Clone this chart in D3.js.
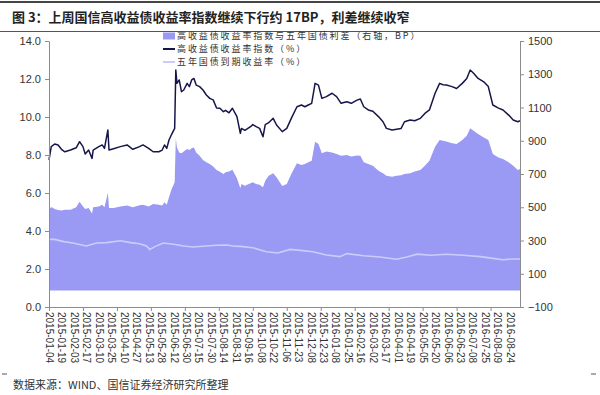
<!DOCTYPE html>
<html>
<head>
<meta charset="utf-8">
<script src="https://cdn.jsdelivr.net/npm/d3@7"></script>
<style>
  body { margin: 0; background: #fff; }
  svg { display: block; }
  .axis path, .axis line { stroke: #8c8c8c; }
  .axis text { fill: #333; font-family: Arial, "Liberation Sans", sans-serif; }
</style>
</head>
<body>
<div id="chart"></div>
<script>
// trading-day index (x) and readings
const idxDays = [0, 2, 5, 8, 11, 14, 19, 24, 27, 30, 32, 35, 38, 39, 44, 47, 49, 52, 53, 57, 63, 69, 74, 80, 83, 88, 92, 97, 100, 102, 104, 106, 108, 111, 112, 113, 115, 117, 119, 122, 124, 126, 128, 130, 133, 136, 139, 142, 145, 148, 151, 154, 156, 159, 162, 166, 169, 170, 173, 178, 180, 183, 186, 189, 191, 194, 198, 201, 206, 210, 214, 219, 223, 226, 229, 232, 235, 238, 241, 245, 250, 254, 258, 263, 267, 272, 275, 278, 282, 286, 291, 295, 298, 303, 307, 311, 314, 319, 323, 328, 332, 336, 341, 345, 348, 351, 356, 360, 365, 369, 372, 375, 379, 384, 388, 392, 397, 401, 406, 410, 414, 416];
const hyIndex = [7.74, 8.44, 8.58, 8.53, 8.30, 8.17, 8.26, 8.38, 8.70, 8.44, 8.05, 8.26, 7.82, 8.26, 8.44, 8.53, 8.35, 9.32, 8.26, 8.33, 8.44, 8.53, 8.30, 8.44, 8.53, 8.35, 8.17, 8.17, 8.26, 8.53, 8.35, 8.79, 9.05, 9.40, 12.47, 11.77, 11.95, 11.33, 11.42, 11.77, 11.60, 11.95, 12.03, 11.68, 11.60, 11.42, 11.16, 10.98, 10.90, 10.47, 10.46, 10.28, 10.35, 10.22, 10.46, 10.02, 9.14, 9.40, 9.30, 9.49, 9.60, 9.49, 9.40, 8.96, 9.60, 9.70, 9.93, 9.58, 9.23, 9.40, 9.93, 10.54, 10.63, 10.54, 10.63, 10.72, 11.77, 11.68, 10.98, 11.07, 11.25, 11.07, 10.72, 10.80, 10.72, 10.89, 10.95, 10.54, 10.37, 10.30, 10.02, 9.75, 9.40, 9.32, 9.36, 9.40, 9.75, 9.84, 9.80, 9.93, 10.19, 10.37, 11.25, 11.77, 11.70, 11.68, 11.60, 11.50, 11.77, 12.03, 12.47, 12.30, 12.03, 11.85, 11.60, 10.63, 10.47, 10.37, 10.10, 9.84, 9.75, 9.80];
const spreadBp = [483, 501, 490, 483, 480, 485, 485, 500, 533, 505, 490, 495, 463, 500, 505, 515, 500, 587, 495, 495, 505, 510, 500, 512, 515, 505, 520, 515, 510, 530, 515, 560, 604, 650, 915, 860, 830, 825, 835, 850, 845, 855, 860, 830, 810, 784, 770, 760, 745, 724, 714, 700, 710, 715, 726, 674, 614, 640, 630, 644, 650, 640, 636, 620, 660, 690, 704, 680, 628, 640, 700, 764, 754, 760, 770, 780, 894, 880, 825, 835, 830, 820, 810, 815, 805, 812, 810, 770, 760, 750, 720, 704, 690, 684, 690, 692, 700, 705, 715, 724, 750, 780, 864, 904, 900, 895, 885, 880, 905, 930, 975, 960, 940, 920, 904, 820, 800, 790, 770, 750, 724, 730];

const tsyDays = [0, 5, 13, 21, 33, 42, 51, 63, 72, 80, 86, 89, 94, 101, 110, 119, 127, 139, 148, 157, 164, 169, 180, 192, 202, 213, 222, 233, 245, 257, 263, 278, 292, 307, 316, 325, 337, 351, 366, 381, 392, 401, 410, 416];
const tsy5y = [3.56, 3.56, 3.44, 3.37, 3.21, 3.37, 3.39, 3.49, 3.39, 3.33, 3.21, 3.03, 3.19, 3.37, 3.30, 3.21, 3.16, 3.21, 3.25, 3.26, 3.20, 3.19, 3.12, 2.91, 2.84, 3.03, 2.98, 2.91, 2.74, 2.65, 2.81, 2.70, 2.63, 2.51, 2.63, 2.78, 2.72, 2.78, 2.72, 2.65, 2.56, 2.49, 2.53, 2.53];

const dateLabels = ["2015-01-04", "2015-01-19", "2015-02-03", "2015-02-17", "2015-03-10", "2015-03-25", "2015-04-10", "2015-04-27", "2015-05-13", "2015-05-28", "2015-06-12", "2015-06-30", "2015-07-15", "2015-07-30", "2015-08-14", "2015-08-31", "2015-09-16", "2015-10-08", "2015-10-22", "2015-11-06", "2015-11-23", "2015-12-08", "2015-12-23", "2016-01-08", "2016-01-25", "2016-02-16", "2016-03-02", "2016-03-17", "2016-04-01", "2016-04-19", "2016-05-05", "2016-05-20", "2016-06-06", "2016-06-23", "2016-07-08", "2016-07-25", "2016-08-09", "2016-08-24"];
const leftTicks = [0, 2, 4, 6, 8, 10, 12, 14];
const rightTicks = [-100, 100, 300, 500, 700, 900, 1100, 1300, 1500];

const legendNames = ["高收益债收益率指数与五年国债利差（右轴，BP）", "高收益债收益率指数（%）", "五年国债到期收益率（%）"];
const title = "图 3：上周国信高收益债收益率指数继续下行约 17BP，利差继续收窄";
const source = "数据来源：WIND、国信证券经济研究所整理";

const width = 600, height = 395;
const plotLeft = 49, plotRight = 520, plotTop = 41, plotBottom = 307;
const areaColor = "#9a9af5", indexColor = "#16164a", tsyColor = "#ccccfa";

const svg = d3.select("#chart").append("svg")
    .attr("width", width)
    .attr("height", height);

// header rules and title
svg.append("line").attr("x1", 0).attr("x2", width).attr("y1", 2).attr("y2", 2)
    .attr("stroke", "#444").attr("stroke-width", 2);
svg.append("line").attr("x1", 0).attr("x2", width).attr("y1", 31.5).attr("y2", 31.5)
    .attr("stroke", "#555").attr("stroke-width", 1);
svg.append("text")
    .attr("x", 12).attr("y", 22)
    .style("font-family", "'Noto Sans CJK SC', sans-serif")
    .style("font-size", "13px").style("font-weight", "bold").style("fill", "#222")
    .text(title);

let x = d3.scaleLinear().domain([0, 416]).range([plotLeft, plotRight]);
let yL = d3.scaleLinear().domain([0, 14]).range([plotBottom, plotTop]);
let yR = d3.scaleLinear().domain([-100, 1500]).range([plotBottom, plotTop]);

// spread area (right axis)
let area = d3.area()
    .x(function (d, i) { return x(idxDays[i]); })
    .y0(yR(0))
    .y1(function (d) { return yR(d); });

svg.append("path")
    .datum(spreadBp)
    .attr("d", area)
    .attr("fill", areaColor);

// five-year treasury line
let tsyLine = d3.line()
    .x(function (d, i) { return x(tsyDays[i]); })
    .y(function (d) { return yL(d); });

svg.append("path")
    .datum(tsy5y)
    .attr("d", tsyLine)
    .attr("fill", "none")
    .attr("stroke", tsyColor)
    .attr("stroke-width", 1.6);

// high-yield index line
let idxLine = d3.line()
    .x(function (d, i) { return x(idxDays[i]); })
    .y(function (d) { return yL(d); });

svg.append("path")
    .datum(hyIndex)
    .attr("d", idxLine)
    .attr("fill", "none")
    .attr("stroke", indexColor)
    .attr("stroke-width", 1.5)
    .attr("stroke-linejoin", "round");

// axes
svg.append("g")
    .attr("class", "axis")
    .attr("transform", "translate(" + plotLeft + ",0)")
    .call(d3.axisLeft(yL).tickValues(leftTicks).tickFormat(d3.format(".1f")).tickSize(4).tickSizeOuter(0))
    .selectAll("text").style("font-size", "11px").attr("x", -8);

svg.append("g")
    .attr("class", "axis")
    .attr("transform", "translate(" + plotRight + ",0)")
    .call(d3.axisRight(yR).tickValues(rightTicks).tickFormat(d3.format("d")).tickSize(4).tickSizeOuter(0))
    .selectAll("text").style("font-size", "11px").attr("x", 8);

svg.append("g")
    .attr("class", "axis")
    .attr("transform", "translate(0," + plotBottom + ")")
    .call(d3.axisBottom(x).tickValues(d3.range(0, 417, 30)).tickSize(4).tickSizeOuter(0).tickFormat(""));

let labelAxis = svg.append("g")
    .attr("class", "axis")
    .attr("transform", "translate(0," + plotBottom + ")")
    .call(d3.axisBottom(x).tickValues(dateLabels.map(function (d, i) { return i * 11; }))
        .tickSize(0).tickFormat(function (d, i) { return dateLabels[i]; }));
labelAxis.select(".domain").remove();
labelAxis.selectAll("text")
    .style("font-size", "10px")
    .attr("transform", "rotate(90)")
    .attr("x", 5)
    .attr("y", 0)
    .attr("dy", "0.35em")
    .attr("text-anchor", "start");

// legend
let legend = svg.append("g")
    .attr("transform", "translate(163,36)")
    .style("font-family", "'Noto Sans CJK SC', sans-serif")
    .style("font-size", "9px")
    .style("letter-spacing", "1.9px");

legend.append("rect").attr("x", 0).attr("y", -3.5).attr("width", 12).attr("height", 7).attr("fill", areaColor);
legend.append("line").attr("x1", 0).attr("x2", 12).attr("y1", 13).attr("y2", 13)
    .attr("stroke", indexColor).attr("stroke-width", 2);
legend.append("line").attr("x1", 0).attr("x2", 12).attr("y1", 26).attr("y2", 26)
    .attr("stroke", tsyColor).attr("stroke-width", 2);

legend.selectAll(".lg")
    .data(legendNames)
    .enter().append("text")
    .attr("class", "lg")
    .attr("x", 14)
    .attr("y", function (d, i) { return i * 13; })
    .attr("dy", "0.35em")
    .style("fill", "#333")
    .text(function (d) { return d; });

// footer
svg.append("line").attr("x1", 2).attr("x2", 7).attr("y1", 374).attr("y2", 374).attr("stroke", "#555");
svg.append("line").attr("x1", 591).attr("x2", 596).attr("y1", 374).attr("y2", 374).attr("stroke", "#555");
svg.append("text")
    .attr("x", 13).attr("y", 389)
    .style("font-family", "'Noto Sans CJK SC', sans-serif")
    .style("font-size", "11px").style("fill", "#333")
    .text(source);
</script>
</body>
</html>
